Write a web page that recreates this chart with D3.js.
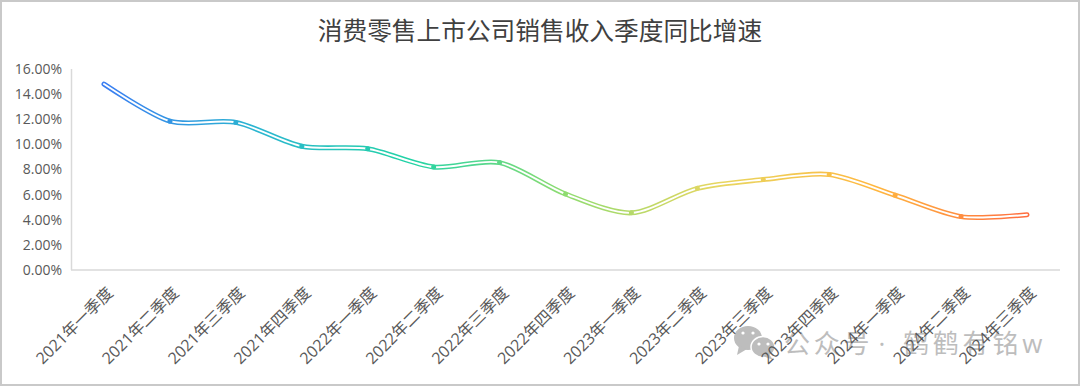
<html>
    <head>
        <meta charset="utf-8">
        <script src="https://d3js.org/d3.v7.min.js"></script>
        <style>
            html, body { margin: 0; padding: 0; background: #fff; overflow: hidden; }
            text { font-family: "Open Sans", "Noto Sans CJK SC", sans-serif; }
        </style>
    </head>
    <body>
        <svg id="chart" width="1080" height="386"></svg>
        <script>
            const quarters = ['2021年一季度', '2021年二季度', '2021年三季度', '2021年四季度',
                              '2022年一季度', '2022年二季度', '2022年三季度', '2022年四季度',
                              '2023年一季度', '2023年二季度', '2023年三季度', '2023年四季度',
                              '2024年一季度', '2024年二季度', '2024年三季度'];
            const growth = [14.8, 11.85, 11.75, 9.85, 9.65, 8.2, 8.55, 6.05, 4.55, 6.5, 7.2, 7.6, 5.95, 4.25, 4.4];
            const yTicks = [0, 2, 4, 6, 8, 10, 12, 14, 16];
            const gradientStops = ['#3a7df2', '#2bb6d0', '#22d3a5', '#8fdc70', '#e8d660', '#ffb840', '#ff6d3f'];

            const svg = d3.select('svg#chart');
            const width = +svg.attr('width');
            const height = +svg.attr('height');

            // picture frame
            svg.append('rect')
               .attr('x', 1).attr('y', 1)
               .attr('width', width - 2).attr('height', height - 2)
               .attr('fill', '#fff')
               .attr('stroke', '#c9c9c9')
               .attr('stroke-width', 2);

            svg.append('text')
               .attr('x', 540).attr('y', 39.5)
               .attr('text-anchor', 'middle')
               .attr('font-size', 24.7)
               .attr('fill', '#404040')
               .text('消费零售上市公司销售收入季度同比增速');

            // watermark sits under the tick labels
            const wm = svg.append('g').attr('fill', '#bdbdbd');
            wm.append('ellipse').attr('cx', 748).attr('cy', 338).attr('rx', 14).attr('ry', 12);
            wm.append('path').attr('d', 'M739 346 L737 355 L747 349 Z');
            wm.append('ellipse').attr('cx', 763).attr('cy', 347).attr('rx', 12).attr('ry', 10.5)
              .attr('stroke', '#fff').attr('stroke-width', 1.5);
            wm.append('path').attr('d', 'M769 354 L773 360 L763 356 Z');
            wm.selectAll('circle').data([[743, 333], [753, 333], [759, 344], [768, 344]]).join('circle')
              .attr('cx', d => d[0]).attr('cy', d => d[1]).attr('r', 1.6).attr('fill', '#fff');
            const wmText = svg.append('g')
                              .attr('font-size', 26)
                              .attr('fill', '#bdbdbd');
            wmText.append('text').attr('x', 784).attr('y', 353)
                  .attr('letter-spacing', 3.8).text('公众号');
            wmText.append('text').attr('x', 882).attr('y', 353)
                  .attr('text-anchor', 'middle').text('·');
            wmText.append('text').attr('x', 903).attr('y', 353)
                  .attr('letter-spacing', 3.8).text('鹤鹤有铭w');

            const x = d3.scalePoint().domain(quarters).range([104, 1027]);
            const y = d3.scaleLinear().domain([0, 16]).range([270, 69]);

            svg.append('line')
               .attr('x1', 71.5).attr('x2', 71.5)
               .attr('y1', y(16)).attr('y2', y(0))
               .attr('stroke', '#d9d9d9').attr('stroke-width', 1.5);
            svg.append('line')
               .attr('x1', 71).attr('x2', 1060)
               .attr('y1', y(0)).attr('y2', y(0))
               .attr('stroke', '#d9d9d9').attr('stroke-width', 1.5);

            svg.append('g').selectAll('text').data(yTicks).join('text')
               .attr('x', 62)
               .attr('y', d => y(d))
               .attr('dy', '0.35em')
               .attr('text-anchor', 'end')
               .attr('font-size', 14)
               .attr('fill', '#595959')
               .text(d => d.toFixed(2) + '%');

            svg.append('g').selectAll('text').data(quarters).join('text')
               .attr('text-anchor', 'end')
               .attr('transform', d => `translate(${x(d) + 6}, 290) rotate(-45)`)
               .attr('dy', '0.35em')
               .attr('font-size', 16)
               .attr('fill', '#595959')
               .text(d => d);

            const defs = svg.append('defs');
            const grad = defs.append('linearGradient')
                             .attr('id', 'lineGrad')
                             .attr('gradientUnits', 'userSpaceOnUse')
                             .attr('x1', x(quarters[0])).attr('x2', x(quarters[14]))
                             .attr('y1', 0).attr('y2', 0);
            grad.selectAll('stop').data(gradientStops).join('stop')
                .attr('offset', (d, i) => i / (gradientStops.length - 1))
                .attr('stop-color', d => d);

            const line = d3.line()
                           .x((d, i) => x(quarters[i]))
                           .y(d => y(d))
                           .curve(d3.curveCardinal.tension(0.15));

            svg.append('path').datum(growth)
               .attr('d', line)
               .attr('fill', 'none')
               .attr('stroke', 'url(#lineGrad)')
               .attr('stroke-width', 5)
               .attr('stroke-linecap', 'round');
            svg.append('path').datum(growth)
               .attr('d', line)
               .attr('fill', 'none')
               .attr('stroke', '#fff')
               .attr('stroke-width', 1.9)
               .attr('stroke-linecap', 'round');

            svg.append('g').selectAll('circle').data(growth.slice(1, -1)).join('circle')
               .attr('cx', (d, i) => x(quarters[i + 1]))
               .attr('cy', d => y(d))
               .attr('r', 2.5)
               .attr('fill', 'url(#lineGrad)');
        </script>
    </body>
</html>
